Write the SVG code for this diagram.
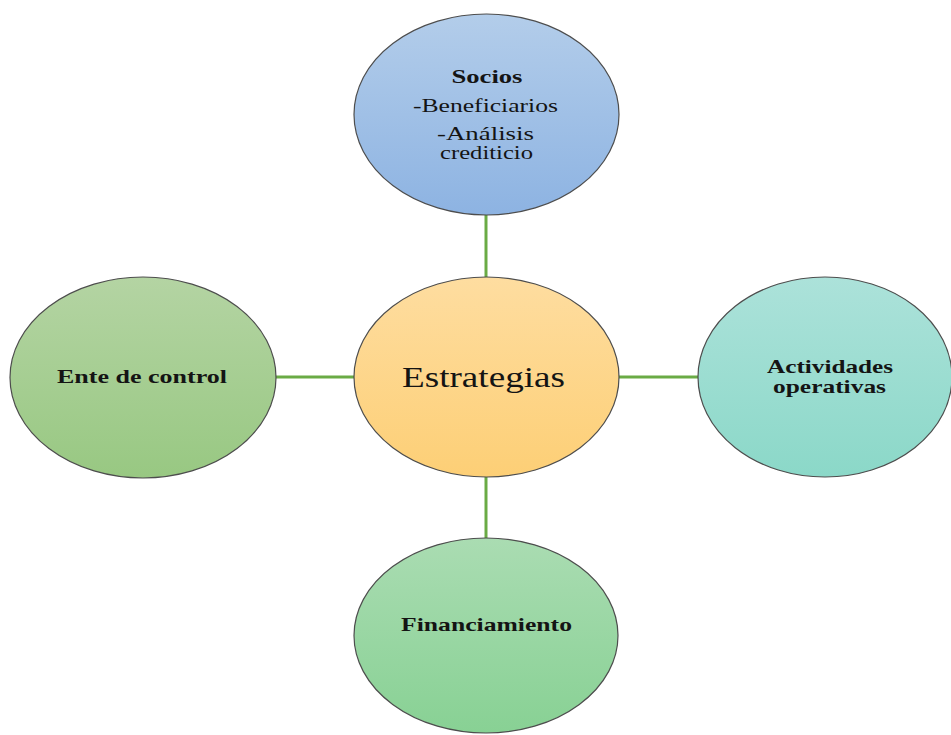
<svg xmlns="http://www.w3.org/2000/svg" width="951" height="735" viewBox="0 0 951 735">
<defs>
<linearGradient id="gBlue" x1="0" y1="0" x2="0" y2="1"><stop offset="0" stop-color="#b3cdea"/><stop offset="1" stop-color="#8db3e2"/></linearGradient>
<linearGradient id="gOrange" x1="0" y1="0" x2="0" y2="1"><stop offset="0" stop-color="#fedda0"/><stop offset="1" stop-color="#fdcf76"/></linearGradient>
<linearGradient id="gOlive" x1="0" y1="0" x2="0" y2="1"><stop offset="0" stop-color="#b4d4a3"/><stop offset="1" stop-color="#98c882"/></linearGradient>
<linearGradient id="gTeal" x1="0" y1="0" x2="0" y2="1"><stop offset="0" stop-color="#ace2da"/><stop offset="1" stop-color="#8bd8c8"/></linearGradient>
<linearGradient id="gGreen" x1="0" y1="0" x2="0" y2="1"><stop offset="0" stop-color="#aadcb2"/><stop offset="1" stop-color="#88d194"/></linearGradient>
</defs>
<style>
.node ellipse{stroke:#4d4d4d;stroke-width:1.2}
.conn line{stroke:#6aab45;stroke-width:3}
text{font-family:"Liberation Serif","Times New Roman",serif;fill:#141414;text-anchor:middle}
.b{font-weight:bold;font-size:19px}
.r{font-size:19px}
.big{font-size:29px}
</style>
<g id="connectors" class="conn">
<line x1="486" y1="214" x2="486" y2="278"/>
<line x1="486" y1="476" x2="486" y2="539"/>
<line x1="275" y1="377" x2="355" y2="377"/>
<line x1="618" y1="377" x2="699" y2="377"/>
</g>
<g id="socios" class="node">
<ellipse cx="486.5" cy="114.5" rx="132.5" ry="100.5" fill="url(#gBlue)"/>
<text class="b" x="487" y="83" textLength="71" lengthAdjust="spacingAndGlyphs">Socios</text>
<text class="r" x="485.5" y="112" textLength="145" lengthAdjust="spacingAndGlyphs">-Beneficiarios</text>
<text class="r" x="485.5" y="140" textLength="97" lengthAdjust="spacingAndGlyphs">-Análisis</text>
<text class="r" x="486.5" y="159" textLength="93" lengthAdjust="spacingAndGlyphs">crediticio</text>
</g>
<g id="estrategias" class="node">
<ellipse cx="486.5" cy="377" rx="132.5" ry="100" fill="url(#gOrange)"/>
<text class="big" x="483.5" y="387" textLength="163" lengthAdjust="spacingAndGlyphs">Estrategias</text>
</g>
<g id="ente" class="node">
<ellipse cx="143" cy="377.5" rx="133" ry="100.5" fill="url(#gOlive)"/>
<text class="b" x="142" y="383" textLength="170" lengthAdjust="spacingAndGlyphs">Ente de control</text>
</g>
<g id="actividades" class="node">
<ellipse cx="825" cy="377" rx="127" ry="100" fill="url(#gTeal)"/>
<text class="b" x="830" y="373" textLength="126" lengthAdjust="spacingAndGlyphs">Actividades</text>
<text class="b" x="829.5" y="393" textLength="113" lengthAdjust="spacingAndGlyphs">operativas</text>
</g>
<g id="financiamiento" class="node">
<ellipse cx="486" cy="635.5" rx="132" ry="97.5" fill="url(#gGreen)"/>
<text class="b" x="486.5" y="631" textLength="171" lengthAdjust="spacingAndGlyphs">Financiamiento</text>
</g>
</svg>
